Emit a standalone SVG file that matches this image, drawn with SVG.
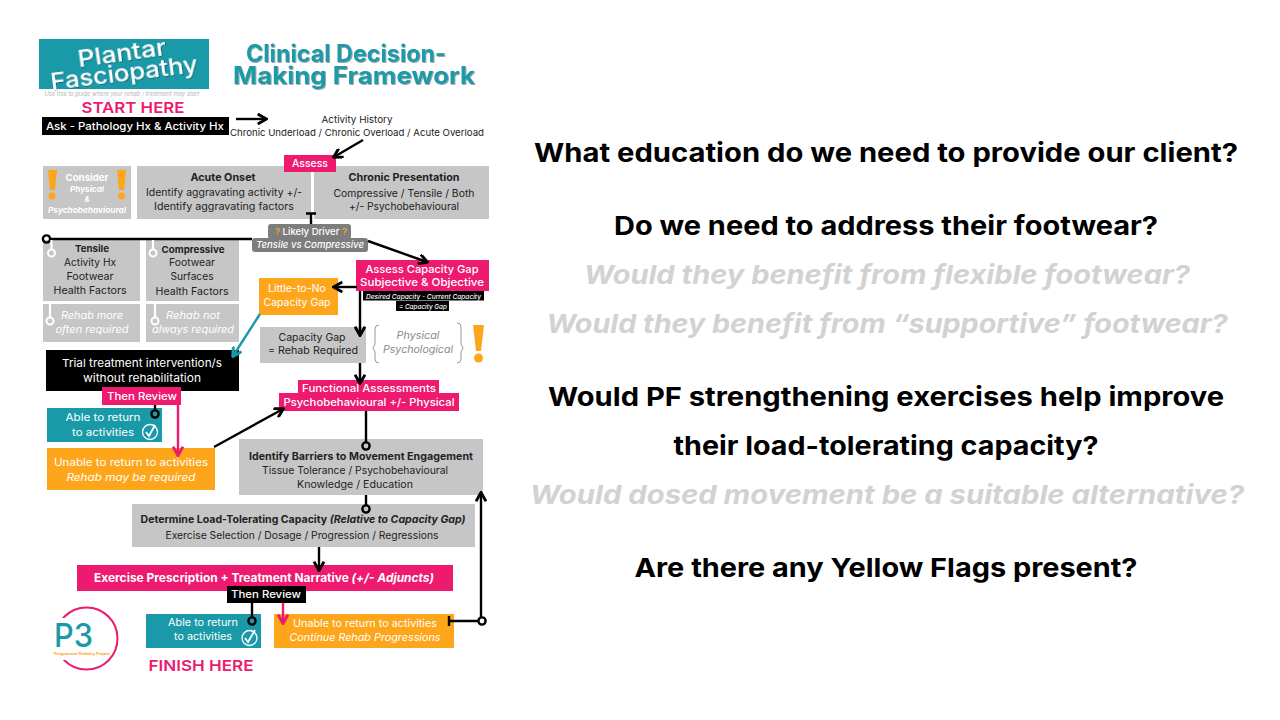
<svg xmlns="http://www.w3.org/2000/svg" width="1280" height="720" viewBox="0 0 1280 720">
<style>
text{font-family:Inter,"Open Sans","Liberation Sans",sans-serif;text-anchor:middle}
.w{fill:#fff}.k{fill:#222}.b{font-weight:700}.s{font-weight:500}.i{font-style:italic}
.t9{font-size:9.5px}.t10{font-size:10.5px}.t11{font-size:11px}
.q{font-size:26px;font-weight:700;fill:#000}.g{font-size:26px;font-weight:700;font-style:italic;fill:#d2d2d2}
.box{fill:#c6c6c6}.pink{fill:#ee1a6f}.teal{fill:#1a9aa8}.org{fill:#fea61b}
.l{fill:none;stroke:#000;stroke-width:2.4}
.lw{fill:none;stroke:#fff;stroke-width:2.2}
.lp{fill:none;stroke:#ee1a6f;stroke-width:2.4}
.lt{fill:none;stroke:#1a9aa8;stroke-width:2.4}
.d{fill:none;stroke:#000;stroke-width:2.4}
.dw{fill:none;stroke:#fff;stroke-width:2}
.tt{font-size:24px;font-weight:700;fill:#1a9aa8}
.hd{font-size:15px;font-weight:600;fill:#ee1a6f}
.bn{font-size:23px;font-weight:500;fill:#fff}
</style>
<defs>
<marker id="a" viewBox="0 0 10 10" refX="8.500" refY="5" markerWidth="4.600" markerHeight="4.600" orient="auto"><path d="M1 0.500L9 5L1 9.500" fill="none" stroke="#000" stroke-width="2.600"/></marker>
<marker id="ap" viewBox="0 0 10 10" refX="8.500" refY="5" markerWidth="4.600" markerHeight="4.600" orient="auto"><path d="M1 0.500L9 5L1 9.500" fill="none" stroke="#ee1a6f" stroke-width="2.600"/></marker>
<marker id="at" viewBox="0 0 10 10" refX="8.500" refY="5" markerWidth="4.600" markerHeight="4.600" orient="auto"><path d="M1 0.500L9 5L1 9.500" fill="none" stroke="#1a9aa8" stroke-width="2.600"/></marker>
<filter id="sh" x="-5%" y="-10%" width="110%" height="125%"><feDropShadow dx="0.800" dy="0.800" stdDeviation="0.500" flood-color="#000" flood-opacity="0.450"/></filter>
</defs>
<rect width="1280" height="720" fill="#fff"/>

<g id="title-banner">
<rect class="teal" x="39" y="39" width="170" height="50"/>
<text class="bn" x="123" y="61" textLength="89" lengthAdjust="spacingAndGlyphs" transform="rotate(-8 123 61)" filter="url(#sh)">Plantar</text>
<text class="bn" x="125" y="81" textLength="148" lengthAdjust="spacingAndGlyphs" transform="rotate(-7 125 81)" filter="url(#sh)">Fasciopathy</text>
</g>
<g id="title" filter="url(#sh)"><text class="tt" x="346" y="62" textLength="200" lengthAdjust="spacingAndGlyphs">Clinical Decision-</text>
<text class="tt" x="354" y="84" textLength="242" lengthAdjust="spacingAndGlyphs">Making Framework</text></g>
<text class="i" x="122" y="96" textLength="155" lengthAdjust="spacingAndGlyphs" style="font-size:5.500px;fill:#b5b5b5">Use this to guide where your rehab / treatment may start</text>
<text class="hd" x="133" y="113" textLength="103" lengthAdjust="spacingAndGlyphs">START HERE</text>

<g id="activity-history"><text class="k t9" x="357" y="123" textLength="71" lengthAdjust="spacingAndGlyphs">Activity History</text>
<text class="k t9" x="357" y="136" textLength="254" lengthAdjust="spacingAndGlyphs">Chronic Underload / Chronic Overload / Acute Overload</text></g>

<g id="ask"><rect x="42" y="117" width="187" height="18" fill="#000"/><text class="w s t10" x="135" y="130" textLength="178" lengthAdjust="spacingAndGlyphs">Ask - Pathology Hx &amp; Activity Hx</text></g>

<g id="consider"><rect class="box" x="43" y="166" width="88" height="53"/>
<text class="w b t9" x="87" y="181" textLength="43" lengthAdjust="spacingAndGlyphs">Consider</text>
<text class="w b i" x="87" y="192" textLength="34" lengthAdjust="spacingAndGlyphs" style="font-size:7.500px">Physical</text>
<text class="w b i" x="87" y="202" style="font-size:7.500px">&amp;</text>
<text class="w b i" x="87" y="213" textLength="78" lengthAdjust="spacingAndGlyphs" style="font-size:7.500px">Psychobehavioural</text>
<path class="org" d="M48 170H57L55 190H50ZM117 170H126L124 190H119Z"/><circle class="org" cx="52" cy="196" r="3.500"/><circle class="org" cx="121.500" cy="196" r="3.500"/></g>

<g id="acute"><rect class="box" x="137" y="166" width="174" height="53"/>
<text class="k b t10" x="223" y="181" textLength="65" lengthAdjust="spacingAndGlyphs">Acute Onset</text>
<text class="k t10" x="224" y="196" textLength="156" lengthAdjust="spacingAndGlyphs">Identify aggravating activity +/-</text>
<text class="k t10" x="224" y="210" textLength="140" lengthAdjust="spacingAndGlyphs">Identify aggravating factors</text></g>

<g id="chronic"><rect class="box" x="314" y="166" width="175" height="53"/>
<text class="k b t10" x="404" y="181" textLength="111" lengthAdjust="spacingAndGlyphs">Chronic Presentation</text>
<text class="k t10" x="404" y="197" textLength="141" lengthAdjust="spacingAndGlyphs">Compressive / Tensile / Both</text>
<text class="k t10" x="404" y="210" textLength="110" lengthAdjust="spacingAndGlyphs">+/- Psychobehavioural</text></g>

<g id="assess"><rect class="pink" x="284" y="155" width="52" height="17"/><text class="w s t10" x="310" y="167" textLength="36" lengthAdjust="spacingAndGlyphs">Assess</text></g>

<g id="likely-driver"><rect x="268" y="224" width="83" height="15" rx="3" fill="#7d7d7d"/><rect x="252" y="238" width="116" height="14" rx="3" fill="#7d7d7d"/>
<text class="s" x="311" y="235" textLength="72" lengthAdjust="spacingAndGlyphs" style="font-size:9.500px;fill:#fff"><tspan fill="#fea61b">?</tspan> Likely Driver <tspan fill="#fea61b">?</tspan></text>
<text class="w s i t9" x="310" y="248" textLength="108" lengthAdjust="spacingAndGlyphs">Tensile vs Compressive</text></g>

<g id="tensile"><rect class="box" x="43" y="240" width="97" height="61"/>
<text class="k b t9" x="92" y="252" textLength="34" lengthAdjust="spacingAndGlyphs">Tensile</text>
<text class="k t10" x="90" y="266" textLength="52" lengthAdjust="spacingAndGlyphs">Activity Hx</text>
<text class="k t10" x="90" y="280" textLength="47" lengthAdjust="spacingAndGlyphs">Footwear</text>
<text class="k t10" x="90" y="294" textLength="73" lengthAdjust="spacingAndGlyphs">Health Factors</text></g>
<g id="compressive"><rect class="box" x="146" y="240" width="93" height="61"/>
<text class="k b t9" x="193" y="253" textLength="63" lengthAdjust="spacingAndGlyphs">Compressive</text>
<text class="k t10" x="192" y="266" textLength="46" lengthAdjust="spacingAndGlyphs">Footwear</text>
<text class="k t10" x="192" y="280" textLength="43" lengthAdjust="spacingAndGlyphs">Surfaces</text>
<text class="k t10" x="192" y="295" textLength="73" lengthAdjust="spacingAndGlyphs">Health Factors</text></g>
<g id="rehab-more"><rect class="box" x="43" y="304" width="97" height="38"/>
<text class="w i t10" x="92" y="319" textLength="62" lengthAdjust="spacingAndGlyphs">Rehab more</text>
<text class="w i t10" x="92" y="333" textLength="73" lengthAdjust="spacingAndGlyphs">often required</text></g>
<g id="rehab-not"><rect class="box" x="146" y="304" width="93" height="38"/>
<text class="w i t10" x="193" y="319" textLength="54" lengthAdjust="spacingAndGlyphs">Rehab not</text>
<text class="w i t10" x="193" y="333" textLength="82" lengthAdjust="spacingAndGlyphs">always required</text></g>

<g id="trial"><rect x="46" y="350" width="193" height="41" fill="#000"/>
<text class="w t11" x="142" y="367" textLength="160" lengthAdjust="spacingAndGlyphs">Trial treatment intervention/s</text>
<text class="w t11" x="142" y="382" textLength="118" lengthAdjust="spacingAndGlyphs">without rehabilitation</text></g>
<g id="then-review-1"><rect class="pink" x="102" y="387" width="79" height="18"/><text class="w s t10" x="142" y="400" textLength="70" lengthAdjust="spacingAndGlyphs">Then Review</text></g>

<g id="able-1"><rect class="teal" x="47" y="408" width="115" height="34"/>
<text class="w t10" x="103" y="421" textLength="75" lengthAdjust="spacingAndGlyphs">Able to return</text>
<text class="w t10" x="103" y="436" textLength="62" lengthAdjust="spacingAndGlyphs">to activities</text>
<circle cx="150" cy="432" r="7.500" fill="none" stroke="#fff" stroke-width="1.300"/><path d="M146 432L149 436L155 425" fill="none" stroke="#fff" stroke-width="1.800"/></g>
<g id="unable-1"><rect class="org" x="47" y="448" width="168" height="42"/>
<text class="w t10" x="131" y="466" textLength="154" lengthAdjust="spacingAndGlyphs">Unable to return to activities</text>
<text class="w i t10" x="131" y="481" textLength="129" lengthAdjust="spacingAndGlyphs">Rehab may be required</text></g>

<g id="assess-capacity"><rect class="pink" x="356" y="260" width="133" height="31"/>
<text class="w s t11" x="422" y="273" textLength="113" lengthAdjust="spacingAndGlyphs">Assess Capacity Gap</text>
<text class="w s t11" x="422" y="286" textLength="124" lengthAdjust="spacingAndGlyphs">Subjective &amp; Objective</text>
<rect x="363" y="291" width="121" height="9.500" fill="#000"/><rect x="396" y="301" width="53" height="10" fill="#000"/>
<text class="w s i" x="423.500" y="298.500" textLength="115" lengthAdjust="spacingAndGlyphs" style="font-size:6.500px">Desired Capacity - Current Capacity</text>
<text class="w s i" x="423" y="308.500" textLength="48" lengthAdjust="spacingAndGlyphs" style="font-size:6.500px">= Capacity Gap</text></g>

<g id="little"><rect class="org" x="259" y="278" width="79" height="37"/>
<text class="w t10" x="297" y="292" textLength="58" lengthAdjust="spacingAndGlyphs">Little-to-No</text>
<text class="w t10" x="297" y="306" textLength="67" lengthAdjust="spacingAndGlyphs">Capacity Gap</text></g>

<g id="capacity-gap"><rect class="box" x="260" y="327" width="106" height="36"/>
<text class="k t10" x="312" y="341" textLength="67" lengthAdjust="spacingAndGlyphs">Capacity Gap</text>
<text class="k t10" x="313" y="354" textLength="90" lengthAdjust="spacingAndGlyphs">= Rehab Required</text></g>

<g id="physical-psychological"><text class="i t10" x="418" y="339" textLength="43" lengthAdjust="spacingAndGlyphs" fill="#8a8a8a">Physical</text>
<text class="i t10" x="418" y="353" textLength="70" lengthAdjust="spacingAndGlyphs" fill="#8a8a8a">Psychological</text>
<path d="M379 325Q375 325 375 329V344L373 348L375 352V359Q375 363 379 363M457 323Q461 323 461 327V344L463 348L461 352V359Q461 363 457 363" fill="none" stroke="#9a9a9a" stroke-width="1"/>
<path class="org" d="M473 325H484L481 351H476Z"/><circle class="org" cx="478.500" cy="358" r="4.500"/></g>

<g id="functional"><rect class="pink" x="298" y="380" width="141" height="14"/><rect class="pink" x="279" y="393" width="180" height="18"/>
<text class="w s t10" x="369" y="392" textLength="134" lengthAdjust="spacingAndGlyphs">Functional Assessments</text>
<text class="w s t10" x="369" y="406" textLength="171" lengthAdjust="spacingAndGlyphs">Psychobehavioural +/- Physical</text></g>

<g id="barriers"><rect class="box" x="239" y="439" width="244" height="56"/>
<text class="k b t10" x="361" y="460" textLength="224" lengthAdjust="spacingAndGlyphs">Identify Barriers to Movement Engagement</text>
<text class="k t10" x="355" y="474" textLength="186" lengthAdjust="spacingAndGlyphs">Tissue Tolerance / Psychobehavioural</text>
<text class="k t10" x="355" y="488" textLength="116" lengthAdjust="spacingAndGlyphs">Knowledge / Education</text></g>

<g id="load"><rect class="box" x="132" y="504" width="343" height="43"/>
<text class="k b t10" x="303" y="523" textLength="325" lengthAdjust="spacingAndGlyphs">Determine Load-Tolerating Capacity <tspan class="i">(Relative to Capacity Gap)</tspan></text>
<text class="k t10" x="302" y="539" textLength="273" lengthAdjust="spacingAndGlyphs">Exercise Selection / Dosage / Progression / Regressions</text></g>

<g id="exercise"><rect class="pink" x="77" y="565" width="376" height="26"/>
<text class="w b" x="264" y="582" textLength="340" lengthAdjust="spacingAndGlyphs" style="font-size:12px">Exercise Prescription + Treatment Narrative <tspan class="i">(+/- Adjuncts)</tspan></text></g>

<g id="then-review-2"><rect x="227" y="586" width="79" height="17" fill="#000"/><text class="w s t10" x="266" y="598" textLength="70" lengthAdjust="spacingAndGlyphs">Then Review</text></g>

<g id="able-2"><rect class="teal" x="146" y="614" width="115" height="34"/>
<text class="w t10" x="203" y="626" textLength="70" lengthAdjust="spacingAndGlyphs">Able to return</text>
<text class="w t10" x="203" y="640" textLength="58" lengthAdjust="spacingAndGlyphs">to activities</text>
<circle cx="249.500" cy="638" r="7.500" fill="none" stroke="#fff" stroke-width="1.300"/><path d="M245 638L248 642L255 630" fill="none" stroke="#fff" stroke-width="1.800"/></g>

<g id="unable-2"><rect class="org" x="274" y="614" width="180" height="34"/>
<text class="w t10" x="365" y="627" textLength="144" lengthAdjust="spacingAndGlyphs">Unable to return to activities</text>
<text class="w i t10" x="365" y="641" textLength="151" lengthAdjust="spacingAndGlyphs">Continue Rehab Progressions</text></g>

<text class="hd" x="201" y="671" textLength="105" lengthAdjust="spacingAndGlyphs">FINISH HERE</text>

<g id="p3-logo"><circle cx="86.500" cy="638.500" r="31" fill="none" stroke="#ee1a6f" stroke-width="2"/>
<rect x="52" y="618" width="30" height="42" fill="#fff"/>
<text x="73.500" y="647" textLength="39" lengthAdjust="spacingAndGlyphs" style="font-size:33px;font-weight:500;fill:#1a9aa8">P3</text>
<text x="82" y="654.500" textLength="56" lengthAdjust="spacingAndGlyphs" style="font-size:3.500px;font-weight:700;fill:#fea61b">Progressive Podiatry Project</text></g>

<g id="connectors">
<path class="l" d="M236 119H266" marker-end="url(#a)"/>
<path class="l" d="M363 140L334 157" marker-end="url(#a)"/>
<path class="l" d="M311 213V224M306 213.500H316"/>
<path class="l" d="M50 239H252"/>
<circle class="d" cx="46.500" cy="239" r="3.600"/>
<path class="lw" d="M51.500 240V249M153 240V249M50 304V317M155 304V317"/>
<circle class="dw" cx="51.500" cy="253" r="3.500"/><circle class="dw" cx="153" cy="253" r="3.500"/><circle class="dw" cx="50" cy="321" r="3.500"/><circle class="dw" cx="155" cy="321" r="3.500"/>
<path class="l" d="M368 241L427 262" marker-end="url(#a)"/>
<path class="l" d="M357 287H334" marker-end="url(#a)"/>
<path class="l" d="M360 291V335" marker-end="url(#a)"/>
<path class="l" d="M360 363V383" marker-end="url(#a)"/>
<path class="lt" d="M260 314L233 356" marker-end="url(#at)"/>
<path class="l" d="M155 405V410.500"/><circle class="d" cx="155" cy="414" r="3.600"/>
<path class="lp" d="M178 405V455" marker-end="url(#ap)"/>
<path class="l" d="M214 447L283 409" marker-end="url(#a)"/>
<path class="l" d="M366 411V442.400"/><circle class="d" cx="366" cy="446" r="3.600"/>
<path class="l" d="M366 495V505.400"/><circle class="d" cx="366" cy="509" r="3.600"/>
<path class="l" d="M319 547V570" marker-end="url(#a)"/>
<path class="l" d="M252 603V617.400"/><circle class="d" cx="252" cy="621" r="3.600"/>
<path class="lp" d="M283 603V623" marker-end="url(#ap)"/>
<path class="l" d="M481 617.400V493" marker-end="url(#a)"/>
<path class="l" d="M478 621H449M449 616V626"/><circle class="d" cx="482" cy="621" r="3.600"/>
</g>

<g id="questions">
<text class="q" x="886" y="162" textLength="704" lengthAdjust="spacingAndGlyphs">What education do we need to provide our client?</text>
<text class="q" x="886" y="235" textLength="544" lengthAdjust="spacingAndGlyphs">Do we need to address their footwear?</text>
<text class="g" x="887" y="284" textLength="606" lengthAdjust="spacingAndGlyphs">Would they benefit from flexible footwear?</text>
<text class="g" x="887" y="333" textLength="681" lengthAdjust="spacingAndGlyphs">Would they benefit from “supportive” footwear?</text>
<text class="q" x="886" y="406" textLength="676" lengthAdjust="spacingAndGlyphs">Would PF strengthening exercises help improve</text>
<text class="q" x="886" y="455" textLength="425" lengthAdjust="spacingAndGlyphs">their load-tolerating capacity?</text>
<text class="g" x="887" y="504" textLength="714" lengthAdjust="spacingAndGlyphs">Would dosed movement be a suitable alternative?</text>
<text class="q" x="886" y="577" textLength="503" lengthAdjust="spacingAndGlyphs">Are there any Yellow Flags present?</text>
</g>
</svg>
